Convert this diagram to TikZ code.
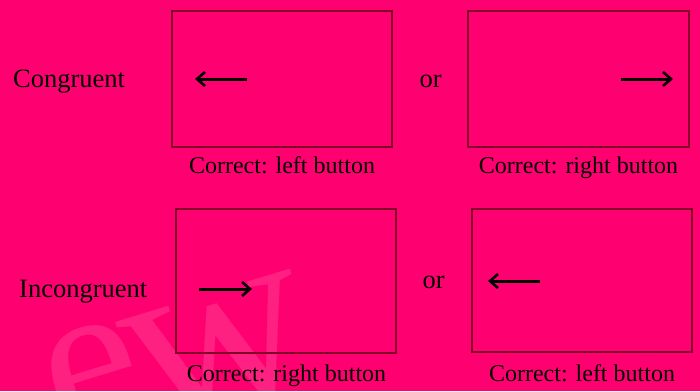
\documentclass[tikz,border=0pt]{standalone}
\usepackage{fontspec}
\setmainfont{Liberation Serif}
\usetikzlibrary{arrows.meta}
\definecolor{bgpink}{RGB}{255,0,112}
\definecolor{boxline}{RGB}{130,0,40}
\tikzset{
  panel/.style={draw=boxline, line width=1.5pt, inner sep=0pt, fill=none},
  arr/.style={line width=3pt, -{Straight Barb[length=8pt,width=14pt,line width=2.6pt]}},
  lbl/.style={anchor=base west, inner sep=0pt, font=\fontsize{26.5}{30}\selectfont, text=black},
  captext/.style={anchor=base, inner sep=0pt, font=\fontsize{24}{28}\selectfont, text=black},
  wmark/.style={anchor=base west, inner sep=0pt, font=\fontsize{215}{220}\selectfont, text=white, text opacity=0.13}
}
\begin{document}
\begin{tikzpicture}[x=1pt,y=-1pt]
\useasboundingbox (0,0) rectangle (700,391);
\fill[bgpink] (0,0) rectangle (700,391);
% watermark
\node[wmark, rotate=17] (wm) at (62,440) {e\kern-10pt\raisebox{-20pt}{\fontsize{255}{260}\selectfont w}};
% boxes
\node[panel, minimum width=220pt, minimum height=136pt] (b1) at (282,79) {};
\node[panel, minimum width=221pt, minimum height=136pt] (b2) at (578.5,79) {};
\node[panel, minimum width=220pt, minimum height=144pt] (b3) at (286,281) {};
\node[panel, minimum width=220pt, minimum height=143pt] (b4) at (582,280.5) {};
% labels
\node[lbl] (cong) at (13,87) {Congruent};
\node[lbl] (incong) at (19,297.5) {Incongruent};
\node[lbl] (or1) at (419.5,87) {or};
\node[lbl] (or2) at (422.5,288.5) {or};
% captions
\node[captext] (c1) at (282,173) {Correct: left button};
\node[captext] (c2) at (578.5,173) {Correct: right button};
\node[captext] (c3) at (286.5,381.5) {Correct: right button};
\node[captext] (c4) at (582,381.5) {Correct: left button};
% arrows
\coordinate (a1s) at (247,79); \coordinate (a1e) at (195,79);
\coordinate (a2s) at (621,79); \coordinate (a2e) at (673,79);
\coordinate (a3s) at (199,289); \coordinate (a3e) at (252,289);
\coordinate (a4s) at (540,281); \coordinate (a4e) at (488,281);
\draw[arr] (a1s) -- (a1e);
\draw[arr] (a2s) -- (a2e);
\draw[arr] (a3s) -- (a3e);
\draw[arr] (a4s) -- (a4e);
\end{tikzpicture}
\end{document}
